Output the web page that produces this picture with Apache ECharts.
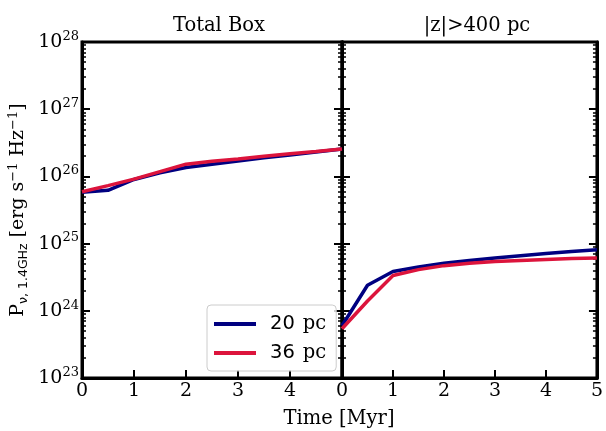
<!DOCTYPE html>
<html>
<head>
<meta charset="utf-8">
<script src="https://cdn.jsdelivr.net/npm/echarts@6/dist/echarts.min.js"></script>
<style>html,body{margin:0;padding:0;background:#fff}#c{width:606px;height:431px}</style>
</head>
<body>
<div id="c"></div>
<script>
// ---- data ----
const times = [0, 0.5, 1, 1.5, 2, 2.5, 3, 3.5, 4, 4.5, 5];
const totalBox20 = [5.8e25, 6.2e25, 9.0e25, 1.13e26, 1.36e26, 1.52e26, 1.70e26, 1.90e26, 2.09e26, 2.30e26, 2.55e26];
const totalBox36 = [5.9e25, 7.3e25, 9.1e25, 1.18e26, 1.52e26, 1.68e26, 1.82e26, 2.00e26, 2.18e26, 2.35e26, 2.56e26];
const highZ20 = [6.0e23, 2.4e24, 3.85e24, 4.5e24, 5.1e24, 5.6e24, 6.1e24, 6.6e24, 7.1e24, 7.6e24, 8.1e24];
const highZ36 = [5.4e23, 1.4e24, 3.35e24, 4.1e24, 4.7e24, 5.1e24, 5.4e24, 5.6e24, 5.8e24, 6.0e24, 6.1e24];
const seriesNames = ['20 pc', '36 pc'];
const panelTitles = ['Total Box', '|z|>400 pc'];
const xTicks = [0, 1, 2, 3, 4, 5];
const yMin = 1e23, yMax = 1e28;
const xLabel = 'Time [Myr]';

// ---- styles ----
const SERIF = 'DejaVu Serif';
const colors = ['#000080', '#DC143C'];
const minorVals = [];
for (let d = 23; d < 28; d++) for (let m = 2; m <= 9; m++) minorVals.push(m * Math.pow(10, d));

const pair = a => times.map((t, i) => [t, a[i]]);

const grids = [
  {left: 82, top: 42, width: 260, height: 336, show: true, borderColor: '#000', borderWidth: 3},
  {left: 342, top: 42, width: 259, height: 336, show: true, borderColor: '#000', borderWidth: 3}
];

function xAxis(gi) {
  return {
    type: 'value', gridIndex: gi, min: 0, max: 5, interval: 1,
    axisLine: {show: true, onZero: false, lineStyle: {color: '#000', width: 3}},
    axisTick: {show: true, inside: true, length: 8, lineStyle: {color: '#000', width: 2}},
    axisLabel: {fontFamily: SERIF, fontSize: 19, color: '#000', margin: 4,
      formatter: v => (gi === 0 && v === 5) ? '' : String(v)},
    splitLine: {show: false}
  };
}

function yMajor(gi, pos, labels) {
  const ax = {
    type: 'log', logBase: 10, gridIndex: gi, min: yMin, max: yMax, position: pos,
    axisLine: {show: true, onZero: false, lineStyle: {color: '#000', width: 3}},
    axisTick: {show: true, inside: true, length: 8, lineStyle: {color: '#000', width: 2}},
    axisLabel: {show: labels, margin: 3, color: '#000',
      formatter: v => '{b|10}{s|' + Math.round(Math.log10(v)) + '}',
      rich: {b: {fontFamily: SERIF, fontSize: 19, color: '#000'},
             s: {fontFamily: SERIF, fontSize: 13, color: '#000', verticalAlign: 'top', padding: [0, 0, 11, 0]}}},
    splitLine: {show: false}
  };
  if (labels && gi === 0) {
    ax.name = '{p|P}{sub|ν, 1.4GHz}{p| [erg s}{sup|−1}{p| Hz}{sup|−1}{p|]}';
    ax.nameLocation = 'middle';
    ax.nameRotate = 90;
    ax.nameGap = 52;
    ax.nameTextStyle = {rich: {
      p: {fontFamily: SERIF, fontSize: 19, color: '#000'},
      sub: {fontFamily: 'DejaVu Sans', fontSize: 12.5, color: '#000', verticalAlign: 'bottom', padding: [8, 0, 0, 0]},
      sup: {fontFamily: SERIF, fontSize: 13, color: '#000', verticalAlign: 'top', padding: [0, 0, 10, 0]}
    }};
  }
  return ax;
}

function yMinor(gi, pos) {
  return {
    type: 'log', logBase: 10, gridIndex: gi, min: yMin, max: yMax, position: pos,
    axisLine: {show: false},
    axisTick: {show: true, inside: true, length: 4, customValues: minorVals, lineStyle: {color: '#000', width: 1.5}},
    axisLabel: {show: false},
    splitLine: {show: false}
  };
}

const yAxes = [
  yMajor(0, 'left', true), yMajor(0, 'right', false), yMinor(0, 'left'), yMinor(0, 'right'),
  yMajor(1, 'left', false), yMajor(1, 'right', false), yMinor(1, 'left'), yMinor(1, 'right')
];

function line(name, data, xi, yi, color) {
  return {
    type: 'line', name: name, xAxisIndex: xi, yAxisIndex: yi, data: pair(data),
    showSymbol: false, symbol: 'none', lineStyle: {color: color, width: 3.5}, itemStyle: {color: color},
    animation: false, z: 3
  };
}

const option = {
  animation: false,
  backgroundColor: '#fff',
  title: [
    {text: panelTitles[0], left: 214, top: 11, textAlign: 'center', textStyle: {fontFamily: SERIF, fontSize: 19.5, fontWeight: 'normal', color: '#000'}},
    {text: panelTitles[1], left: 472, top: 11, textAlign: 'center', textStyle: {fontFamily: SERIF, fontSize: 19.5, fontWeight: 'normal', color: '#000'}},
    {text: xLabel, left: 334, top: 404, textAlign: 'center', textStyle: {fontFamily: SERIF, fontSize: 19.5, fontWeight: 'normal', color: '#000'}}
  ],
  legend: {
    data: seriesNames, orient: 'vertical', left: 207, top: 305,
    padding: [9, 10, 8, 7], itemGap: 9, itemWidth: 42, itemHeight: 4, icon: 'rect',
    borderColor: '#cccccc', borderWidth: 1, borderRadius: 4, backgroundColor: 'rgba(255,255,255,0.8)',
    formatter: n => '{n|' + n.split(' ')[0] + '}{u|' + n.split(' ')[1] + '}',
    textStyle: {padding: [0, 0, 0, 9], rich: {
      n: {fontFamily: 'DejaVu Sans', fontSize: 19.5, color: '#000'},
      u: {fontFamily: SERIF, fontSize: 19.5, color: '#000', padding: [0, 0, 0, 8]}
    }}
  },
  grid: grids,
  xAxis: [xAxis(0), xAxis(1)],
  yAxis: yAxes,
  series: [
    line(seriesNames[0], totalBox20, 0, 0, colors[0]),
    line(seriesNames[1], totalBox36, 0, 0, colors[1]),
    line(seriesNames[0], highZ20, 1, 4, colors[0]),
    line(seriesNames[1], highZ36, 1, 4, colors[1])
  ]
};

echarts.init(document.getElementById('c'), null, {renderer: 'canvas'}).setOption(option);
</script>
</body>
</html>
